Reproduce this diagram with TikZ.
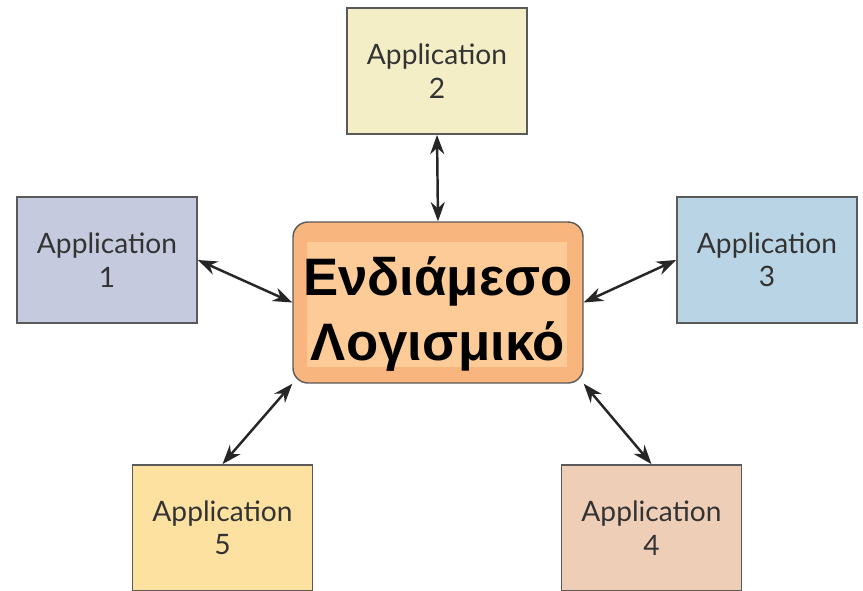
\documentclass[tikz,border=0pt]{standalone}
\usepackage{fontspec}
\setmainfont{Lato}
\newfontfamily\mwfont{Liberation Sans}
\usetikzlibrary{arrows.meta}
\definecolor{appone}{HTML}{C5CADF}
\definecolor{apptwo}{HTML}{F3EEC6}
\definecolor{appthree}{HTML}{B9D5E5}
\definecolor{appfour}{HTML}{EFCEB8}
\definecolor{appfive}{HTML}{FCE1A0}
\definecolor{mwouter}{HTML}{F8B57E}
\definecolor{mwinner}{HTML}{FDCB97}
\definecolor{boxline}{HTML}{5A5A5A}
\begin{document}
\begin{tikzpicture}[>={Stealth[length=11pt,width=8pt]},
  appbox/.style={draw=boxline, line width=1pt, minimum width=3.6cm, minimum height=2.52cm,
    inner sep=0pt, align=center, text=black!80, font=\fontsize{16}{19}\selectfont},
  middleware/.style={draw=boxline, line width=0.8pt, fill=mwouter, rounded corners=0.3cm,
    minimum width=5.8cm, minimum height=3.22cm, inner sep=0pt, align=center, text height=72pt,
    font=\mwfont\bfseries\fontsize{30}{37}\selectfont,
    path picture={\fill[mwinner, sharp corners] ([shift={(0.28,-0.4)}]path picture bounding box.north west)
      rectangle ([shift={(-0.32,0.32)}]path picture bounding box.south east);}},
  link/.style={<->, line width=1.4pt, black!85}]
  \useasboundingbox (0, 0) rectangle (17.26, -11.8);
  \clip (0, 0) rectangle (17.26, -11.8);
  \node[middleware] (mw) at (8.76, -6.05) {Ενδιάμεσο\\Λογισμικό};
  \node[appbox, fill=appone] (app1) at (2.14, -5.2) {Application\\1};
  \node[appbox, fill=apptwo] (app2) at (8.74, -1.42) {Application\\2};
  \node[appbox, fill=appthree] (app3) at (15.34, -5.2) {Application\\3};
  \node[appbox, fill=appfour] (app4) at (13.03, -10.56) {Application\\4};
  \node[appbox, fill=appfive] (app5) at (4.45, -10.56) {Application\\5};
  \draw[link] (app1.east) -- (mw.west);
  \draw[link] (app2.south) -- (mw.north);
  \draw[link] (app3.west) -- (mw.east);
  \draw[link] (app4.north) -- (mw.south east);
  \draw[link] (app5.north) -- (mw.south west);
\end{tikzpicture}
\end{document}
